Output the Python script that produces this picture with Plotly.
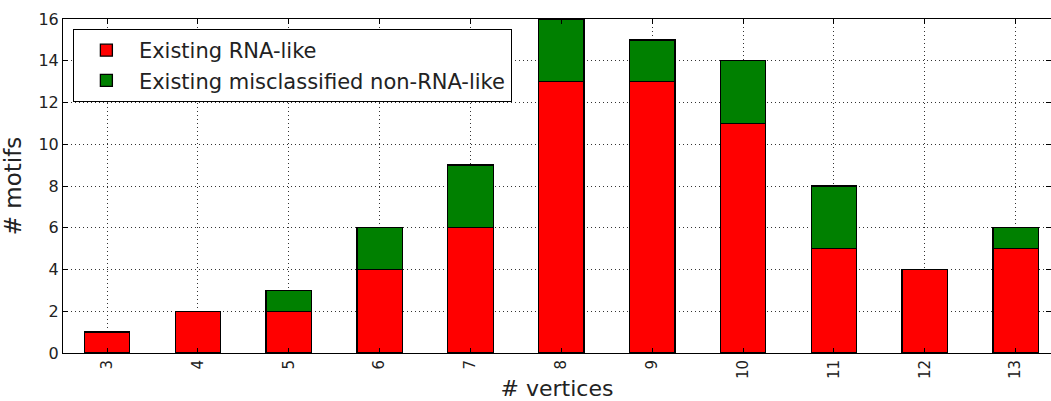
import plotly.graph_objects as go

vertices = ["3", "4", "5", "6", "7", "8", "9", "10", "11", "12", "13"]
rna_like = [1, 2, 2, 4, 6, 13, 13, 11, 5, 4, 5]
misclassified = [0, 0, 1, 2, 3, 3, 2, 3, 3, 0, 1]

FONT = "DejaVu Sans"

fig = go.Figure()
fig.add_trace(go.Bar(
    x=list(range(len(vertices))), y=rna_like, name="Existing RNA-like",
    marker=dict(color="#ff0000", line=dict(color="black", width=1.3)),
    width=0.5,
))
fig.add_trace(go.Bar(
    x=list(range(len(vertices))), y=misclassified, name="Existing misclassified non-RNA-like",
    marker=dict(color="#008000", line=dict(color="black", width=1.3)),
    width=0.5,
))

fig.update_layout(
    barmode="stack",
    width=1051, height=401,
    margin=dict(l=63, r=0, t=19, b=48),
    plot_bgcolor="white", paper_bgcolor="white",
    font=dict(family=FONT, color="#222"),
    legend=dict(
        x=0.01, y=0.97, xanchor="left", yanchor="top",
        bordercolor="black", borderwidth=1,
        font=dict(size=21, family=FONT, color="#222"),
        bgcolor="white", traceorder="normal",
        itemwidth=55,
    ),
    showlegend=True,
)
fig.update_xaxes(
    tickmode="array", tickvals=list(range(len(vertices))), ticktext=vertices,
    range=[-0.485, 10.39], tickangle=-90,
    tickfont=dict(size=15, family=FONT, color="#222"),
    showgrid=True, gridcolor="#333", griddash="1px,3px", gridwidth=1,
    showline=True, linecolor="black", linewidth=1, mirror="ticks",
    ticks="inside", ticklen=5, tickcolor="black",
    title=dict(text="# vertices", font=dict(size=22, family=FONT, color="#222"), standoff=6),
    zeroline=False,
)
fig.update_yaxes(
    range=[0, 16], tickvals=list(range(0, 17, 2)),
    tickfont=dict(size=16, family=FONT, color="#222"),
    showgrid=True, gridcolor="#333", griddash="1px,3px", gridwidth=1,
    showline=True, linecolor="black", linewidth=1, mirror="ticks",
    ticks="inside", ticklen=5, tickcolor="black",
    title=dict(text="# motifs", font=dict(size=23, family=FONT, color="#222"), standoff=10),
    zeroline=False,
)

fig.write_html("out.html")
